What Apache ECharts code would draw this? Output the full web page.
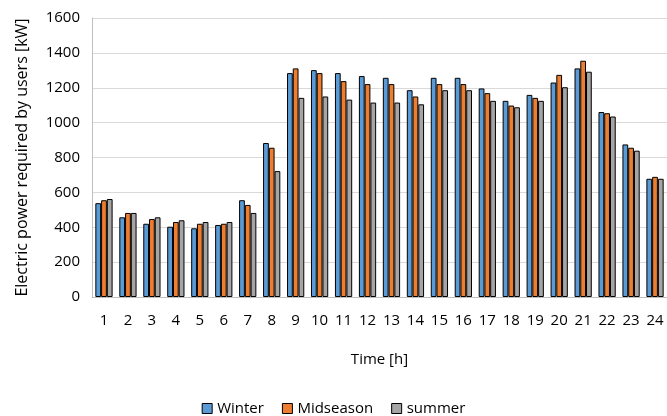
<!DOCTYPE html>
<html>
<head>
<meta charset="utf-8">
<script src="https://cdn.jsdelivr.net/npm/echarts@6/dist/echarts.min.js"></script>
<style>
  html, body { margin: 0; padding: 0; background: #fff; }
  #chart { width: 667px; height: 416px; }
</style>
</head>
<body>
<div id="chart"></div>
<script>
// hours of the day
const hours = ['1', '2', '3', '4', '5', '6', '7', '8', '9', '10', '11', '12',
  '13', '14', '15', '16', '17', '18', '19', '20', '21', '22', '23', '24']

// power demand per season [kW]
const winter = [538, 457, 420, 403, 394, 413, 555, 883, 1284, 1301, 1284, 1267,
  1257, 1186, 1257, 1257, 1196, 1125, 1159, 1230, 1311, 1061, 875, 678]
const midseason = [555, 482, 447, 430, 420, 420, 528, 856, 1311, 1284, 1238, 1221,
  1221, 1150, 1221, 1221, 1169, 1098, 1142, 1274, 1355, 1054, 856, 689]
const summer = [562, 482, 457, 440, 430, 430, 482, 722, 1142, 1150, 1132, 1115,
  1115, 1105, 1186, 1186, 1125, 1088, 1125, 1203, 1292, 1035, 839, 678]

const font = '"Open Sans", "Noto Sans", sans-serif'

const chart = echarts.init(document.getElementById('chart'))

function bar(name, data, color) {
  return {
    name,
    type: 'bar',
    data,
    barGap: '0%',
    barCategoryGap: '28%',
    itemStyle: { color, borderColor: '#000', borderWidth: 1 }
  }
}

chart.setOption({
  animation: false,
  grid: { left: 92, top: 18, width: 579, height: 279 },
  legend: {
    top: 396,
    left: 'center',
    icon: 'rect',
    itemWidth: 10,
    itemHeight: 10,
    itemGap: 18,
    textStyle: { fontFamily: font, fontSize: 15, color: '#000' },
    itemStyle: { borderColor: '#000', borderWidth: 1 },
    data: ['Winter', 'Midseason', 'summer']
  },
  xAxis: {
    type: 'category',
    data: hours,
    name: 'Time [h]',
    nameLocation: 'middle',
    nameGap: 55,
    nameTextStyle: { fontFamily: font, fontSize: 15, color: '#000' },
    axisLine: { lineStyle: { color: '#bfbfbf' } },
    axisTick: { show: false },
    axisLabel: { fontFamily: font, fontSize: 15, color: '#000', margin: 16 }
  },
  yAxis: {
    type: 'value',
    min: 0,
    max: 1600,
    interval: 200,
    name: 'Electric power required by users [kW]',
    nameLocation: 'middle',
    nameGap: 62,
    nameTextStyle: { fontFamily: font, fontSize: 16, color: '#000' },
    axisLine: { show: true, lineStyle: { color: '#bfbfbf' } },
    axisTick: { show: false },
    axisLabel: {
      fontFamily: font, fontSize: 15, color: '#000', margin: 12,
      formatter: v => String(v)
    },
    splitLine: { lineStyle: { color: '#d9d9d9', width: 1 } }
  },
  series: [
    bar('Winter', winter, '#5b9bd5'),
    bar('Midseason', midseason, '#ed7d31'),
    bar('summer', summer, '#a5a5a5')
  ]
})
</script>
</body>
</html>
